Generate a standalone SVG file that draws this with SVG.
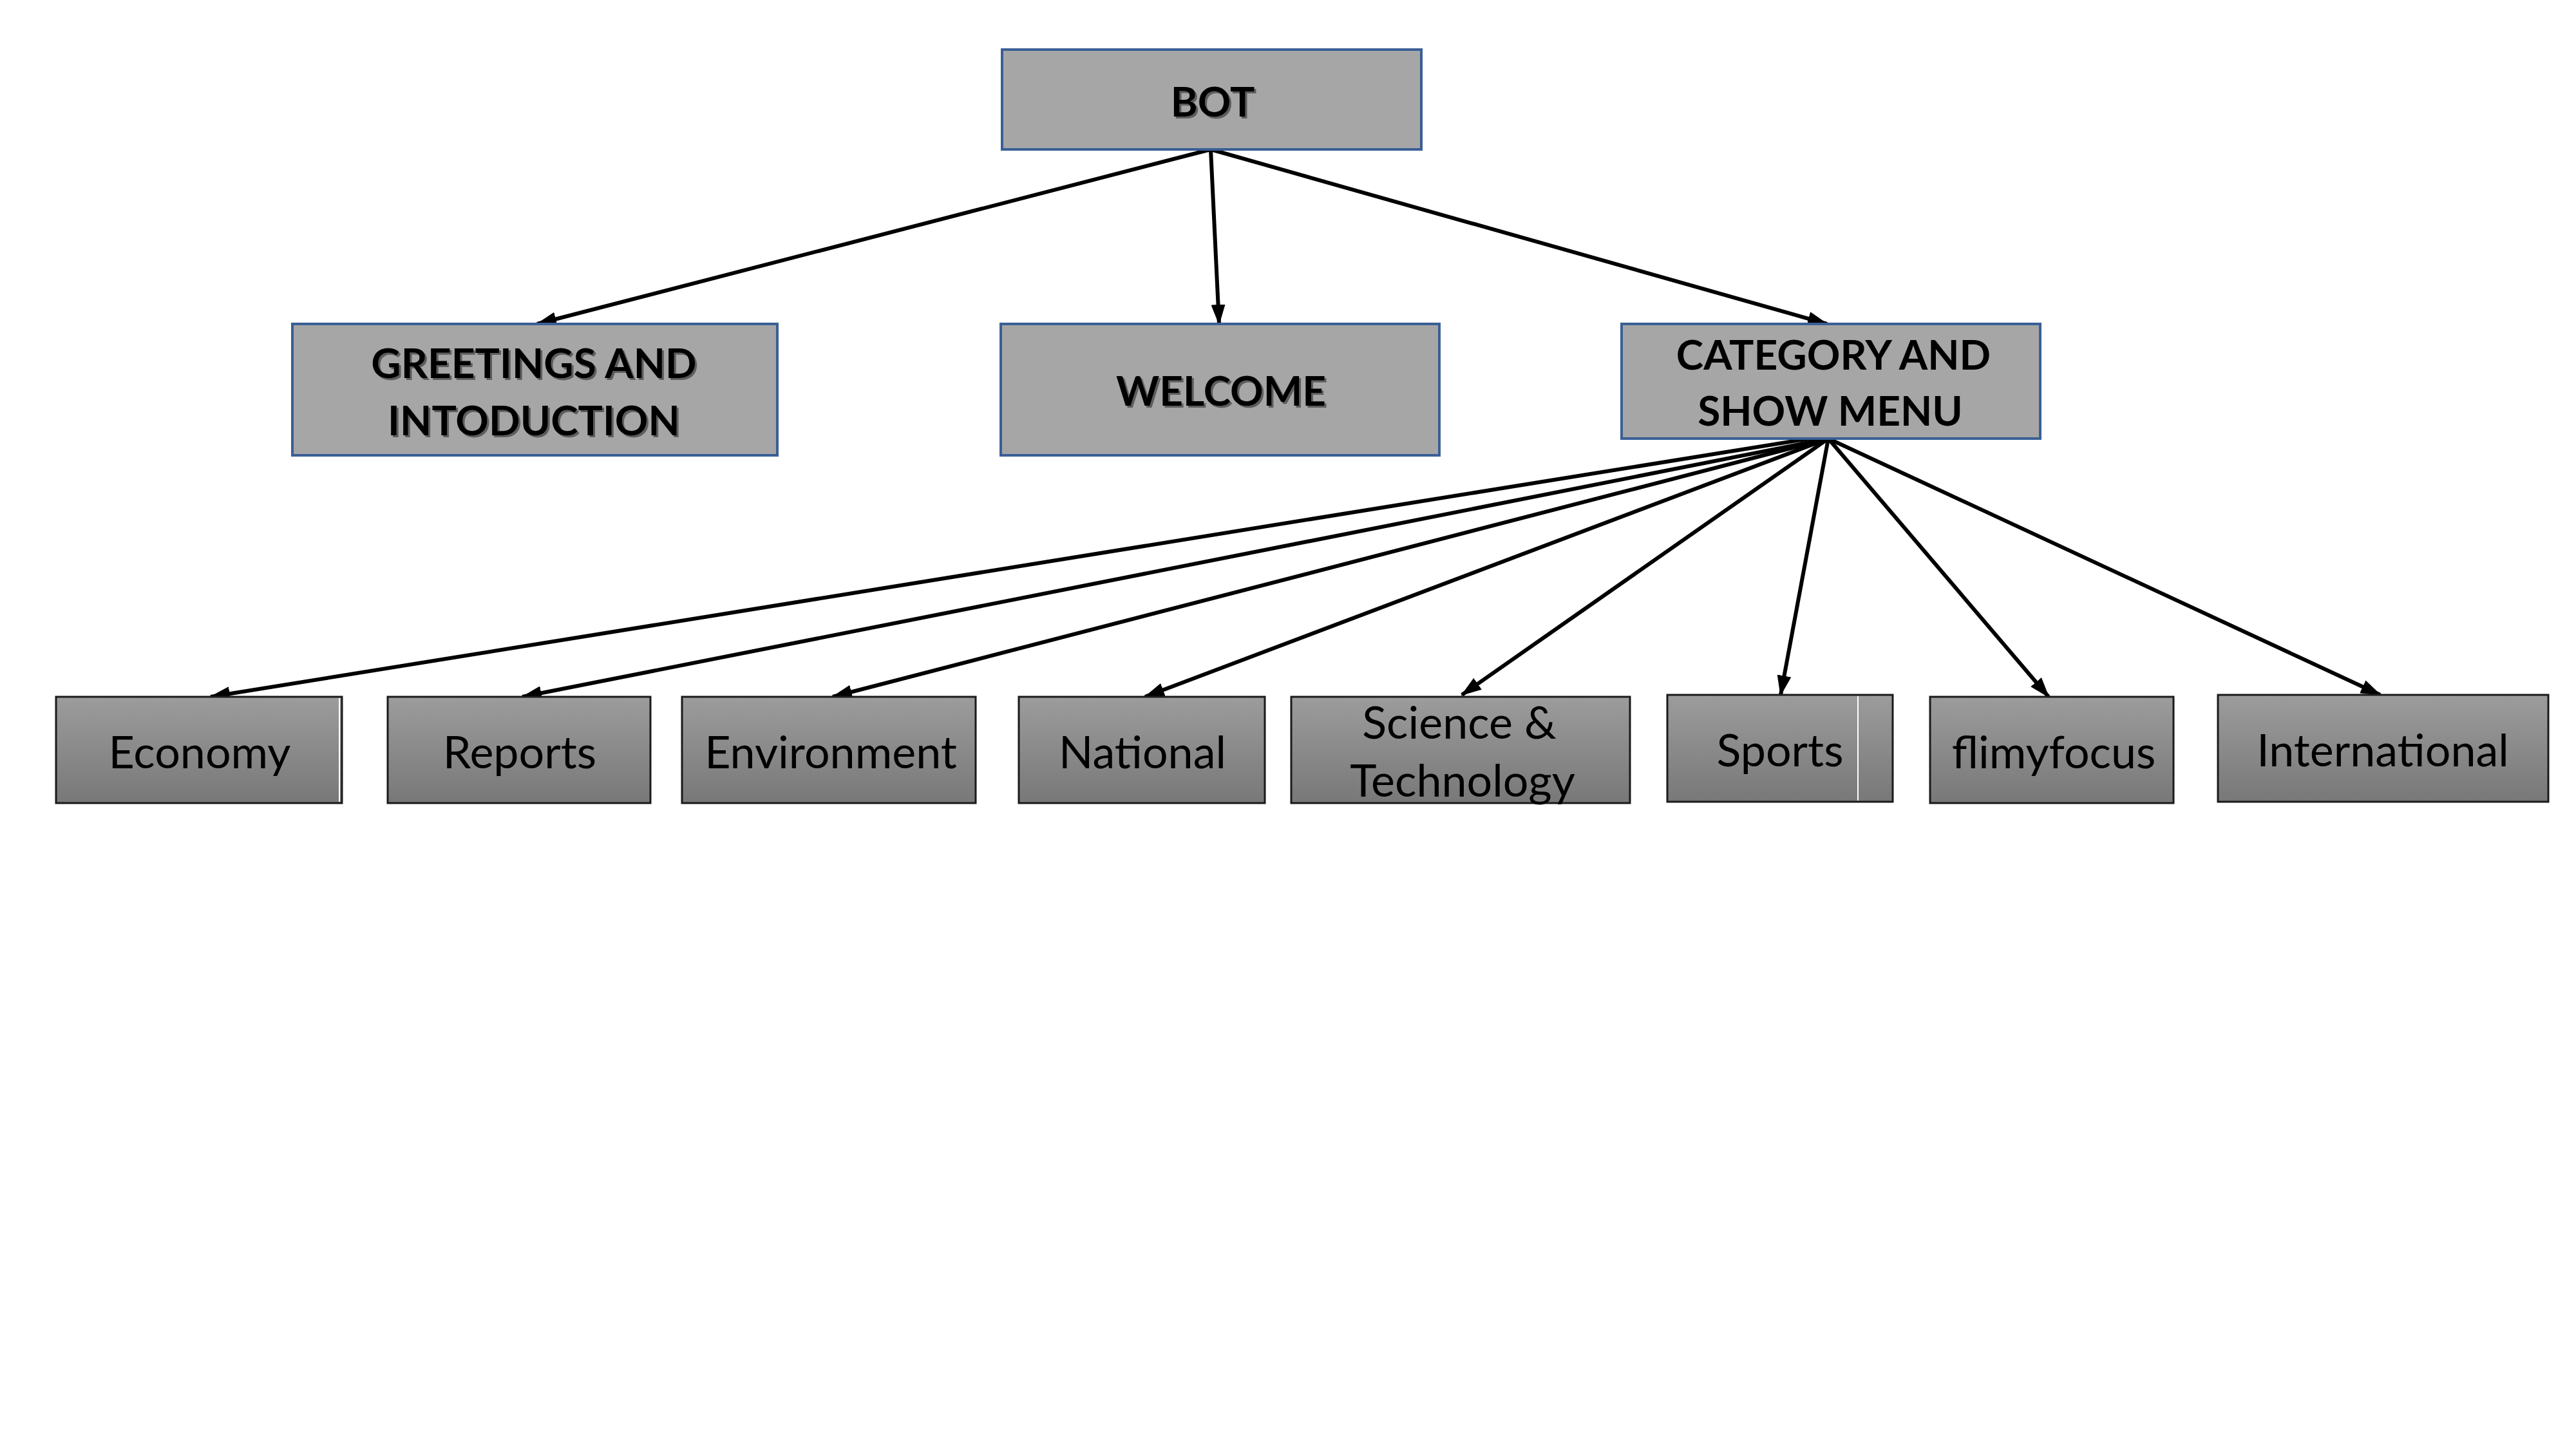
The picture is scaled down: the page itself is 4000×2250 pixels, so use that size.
<svg xmlns="http://www.w3.org/2000/svg" width="4000" height="2250" viewBox="0 0 4000 2250">
<defs>
<style>
.top rect{fill:#A6A6A6;stroke:#3A5F96;stroke-width:4}
.top text{font-family:Lato,"Liberation Sans",sans-serif;font-weight:bold;font-size:64px;fill:#000;text-anchor:middle;dominant-baseline:central}
.sh text{filter:url(#shadow)}
.bot rect{fill:url(#g);stroke:#1a1a1a;stroke-width:3}
.bot text{font-family:Lato,"Liberation Sans",sans-serif;font-size:70px;fill:#000;text-anchor:middle;dominant-baseline:central}
#connectors line{stroke:#000;stroke-width:6;marker-end:url(#ah)}
</style>
<linearGradient id="g" x1="0" y1="0" x2="0" y2="1">
<stop offset="0" stop-color="#9c9c9c"/>
<stop offset="1" stop-color="#787878"/>
</linearGradient>
<filter id="shadow" x="-10%" y="-20%" width="120%" height="140%">
<feDropShadow dx="3" dy="3" stdDeviation="0.5" flood-color="#555" flood-opacity="0.9"/>
</filter>
<marker id="ah" markerUnits="userSpaceOnUse" markerWidth="32" markerHeight="22" refX="30" refY="11" orient="auto">
<path d="M0,0 L32,11 L0,22 z" fill="#000"/>
</marker>
</defs>
<rect width="4000" height="2250" fill="#fff"/>

<g id="connectors">
<line x1="1880" y1="232" x2="834" y2="503"/>
<line x1="1880" y1="232" x2="1893" y2="503"/>
<line x1="1880" y1="232" x2="2837" y2="503"/>
<line x1="2872" y1="671" x2="327" y2="1082"/>
<line x1="2839" y1="681" x2="811" y2="1082"/>
<line x1="2839" y1="681" x2="1293" y2="1082"/>
<line x1="2839" y1="681" x2="1778" y2="1082"/>
<line x1="2839" y1="681" x2="2270" y2="1079"/>
<line x1="2839" y1="681" x2="2765" y2="1079"/>
<line x1="2839" y1="681" x2="3181" y2="1082"/>
<line x1="2839" y1="681" x2="3696" y2="1079"/>
</g>

<g id="bot" class="top sh">
<rect x="1556" y="77" width="651" height="155"/>
<text x="1883" y="156">BOT</text>
</g>
<g id="greetings" class="top sh">
<rect x="454" y="503" width="753" height="204"/>
<text x="829" y="562">GREETINGS AND</text>
<text x="829" y="651">INTODUCTION</text>
</g>
<g id="welcome" class="top sh">
<rect x="1554" y="503" width="681" height="204"/>
<text x="1896" y="605">WELCOME</text>
</g>
<g id="category" class="top">
<rect x="2518" y="503" width="650" height="178"/>
<text x="2847" y="549">CATEGORY AND</text>
<text x="2842" y="636">SHOW MENU</text>
</g>

<g id="economy" class="bot">
<rect x="87" y="1082" width="444" height="165"/>
<line x1="527" y1="1084" x2="527" y2="1245" stroke="#fff" stroke-width="2"/>
<text x="310" y="1166">Economy</text>
</g>
<g id="reports" class="bot">
<rect x="602" y="1082" width="408" height="165"/>
<text x="807" y="1166">Reports</text>
</g>
<g id="environment" class="bot">
<rect x="1059" y="1082" width="456" height="165"/>
<text x="1290" y="1166">Environment</text>
</g>
<g id="national" class="bot">
<rect x="1582" y="1082" width="382" height="165"/>
<text x="1774" y="1166">National</text>
</g>
<g id="science" class="bot">
<rect x="2005" y="1082" width="526" height="165"/>
<text x="2266" y="1120">Science &amp;</text>
<text x="2271" y="1210">Technology</text>
</g>
<g id="sports" class="bot">
<rect x="2589" y="1079" width="350" height="166"/>
<line x1="2885" y1="1081" x2="2885" y2="1243" stroke="#fff" stroke-width="2"/>
<text x="2764" y="1163">Sports</text>
</g>
<g id="flimyfocus" class="bot">
<rect x="2997" y="1082" width="378" height="165"/>
<text x="3189" y="1166">flimyfocus</text>
</g>
<g id="international" class="bot">
<rect x="3444" y="1079" width="513" height="166"/>
<text x="3700" y="1163">International</text>
</g>
</svg>
